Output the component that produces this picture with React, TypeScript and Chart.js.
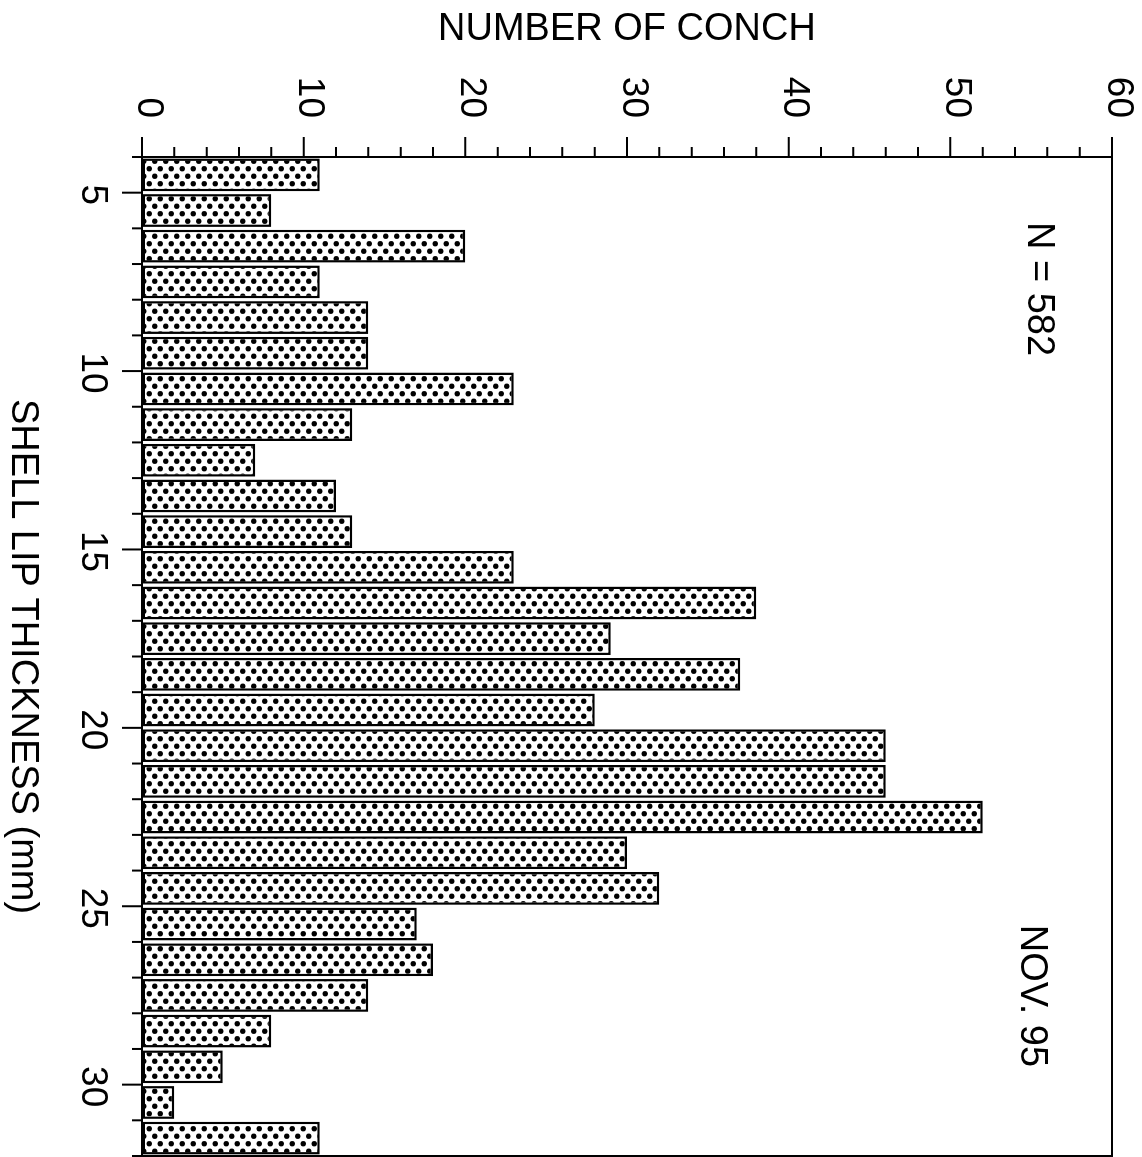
import React, { useEffect, useRef } from 'react';
import { Chart, registerables } from 'chart.js';

Chart.register(...registerables);

// Bin start of each 1-mm shell lip thickness class (mm)
const binStarts = [4, 5, 6, 7, 8, 9, 10, 11, 12, 13, 14, 15, 16, 17, 18, 19, 20, 21, 22, 23, 24, 25, 26, 27, 28, 29, 30, 31];
// Number of conch in each class
const conchCounts = [11, 8, 20, 11, 14, 14, 23, 13, 7, 12, 13, 23, 38, 29, 37, 28, 46, 46, 52, 30, 32, 17, 18, 14, 8, 5, 2, 11];
// Labelled ticks
const thicknessLabels = [5, 10, 15, 20, 25, 30];
const countLabels = [0, 10, 20, 30, 40, 50, 60];

const xTitle = 'SHELL LIP THICKNESS (mm)';
const yTitle = 'NUMBER OF CONCH';
const sampleNote = 'N = 582';
const dateNote = 'NOV. 95';

const FONT = '"Liberation Sans", Arial, Helvetica, sans-serif';
// Unrotated canvas size (chart is drawn as a vertical histogram, then turned 90deg clockwise)
const W0 = 1157;
const H0 = 1142;

function makePattern(): CanvasPattern | string {
  const tile = document.createElement('canvas');
  tile.width = 15;
  tile.height = 11;
  const t = tile.getContext('2d');
  if (!t) return '#bbb';
  t.fillStyle = '#fff';
  t.fillRect(0, 0, 15, 11);
  t.fillStyle = '#000';
  t.beginPath();
  t.arc(3.75, 2.75, 2.7, 0, Math.PI * 2);
  t.closePath();
  t.moveTo(11.25 + 2.7, 8.25);
  t.arc(11.25, 8.25, 2.7, 0, Math.PI * 2);
  t.closePath();
  t.fill();
  const main = document.createElement('canvas').getContext('2d');
  const p = main ? main.createPattern(tile, 'repeat') : null;
  return p || '#bbb';
}

const framePlugin = {
  id: 'frame',
  afterDatasetsDraw(chart: any) {
    const { ctx, chartArea: a, scales } = chart;
    const xs = scales.x;
    const ys = scales.y;
    ctx.save();
    ctx.strokeStyle = '#000';
    ctx.lineWidth = 2;
    ctx.strokeRect(a.left, a.top, a.right - a.left, a.bottom - a.top);
    ctx.beginPath();
    xs.ticks.forEach((t: any) => {
      const p = xs.getPixelForValue(t.value);
      const len = thicknessLabels.includes(t.value) ? 20 : 10;
      ctx.moveTo(p, a.bottom);
      ctx.lineTo(p, a.bottom + len);
    });
    ys.ticks.forEach((t: any) => {
      const p = ys.getPixelForValue(t.value);
      const len = countLabels.includes(t.value) ? 20 : 10;
      ctx.moveTo(a.left, p);
      ctx.lineTo(a.left - len, p);
    });
    ctx.stroke();
    ctx.fillStyle = '#000';
    ctx.font = `38px ${FONT}`;
    ctx.textAlign = 'left';
    ctx.textBaseline = 'alphabetic';
    ctx.fillText(sampleNote, xs.getPixelForValue(5.82), ys.getPixelForValue(54.8));
    ctx.fillText(dateNote, xs.getPixelForValue(25.52), ys.getPixelForValue(54.4));
    ctx.restore();
  },
};

export default function App() {
  const ref = useRef<HTMLCanvasElement | null>(null);

  useEffect(() => {
    if (!ref.current) return;
    const pattern = makePattern();
    const points = binStarts.map((b, i) => ({ x: b + 0.5, y: conchCounts[i] }));
    const chart = new Chart(ref.current, {
      type: 'bar',
      data: {
        datasets: [
          {
            data: points as any,
            backgroundColor: pattern as any,
            borderColor: '#000',
            borderWidth: 2.5,
            borderSkipped: false,
            barPercentage: 0.92,
            categoryPercentage: 1,
          },
        ],
      },
      options: {
        responsive: false,
        animation: false,
        devicePixelRatio: 1,
        layout: { padding: { top: 30, right: 1, left: 0, bottom: 0 } },
        plugins: { legend: { display: false }, tooltip: { enabled: false } },
        scales: {
          x: {
            type: 'linear',
            min: 4,
            max: 32,
            offset: false,
            grid: {
              display: true,
              drawOnChartArea: false,
              drawTicks: true,
              tickLength: 28,
              tickColor: 'rgba(0,0,0,0)',
            },
            border: { display: false },
            ticks: {
              stepSize: 1,
              maxTicksLimit: 100,
              autoSkip: false,
              maxRotation: 0,
              minRotation: 0,
              padding: 0,
              labelOffset: 2,
              color: '#000',
              font: { family: FONT, size: 37 },
              callback: (v: any) => (thicknessLabels.includes(Number(v)) ? String(v) : ''),
            },
            title: {
              display: true,
              text: xTitle,
              color: '#000',
              font: { family: FONT, size: 38 },
              padding: { top: 0, bottom: 0 },
            },
            afterFit: (s: any) => {
              s.height = 142;
            },
          },
          y: {
            min: 0,
            max: 60,
            grid: {
              display: true,
              drawOnChartArea: false,
              drawTicks: true,
              tickLength: 39,
              tickColor: 'rgba(0,0,0,0)',
            },
            border: { display: false },
            ticks: {
              stepSize: 2,
              maxTicksLimit: 100,
              autoSkip: false,
              padding: 0,
              labelOffset: -6,
              color: '#000',
              font: { family: FONT, size: 37 },
              callback: (v: any) => (countLabels.includes(Number(v)) ? String(v) : ''),
            },
            title: {
              display: true,
              text: yTitle,
              color: '#000',
              font: { family: FONT, size: 38 },
              padding: { top: 7, bottom: 0 },
            },
            afterFit: (s: any) => {
              s.width = 157;
            },
          },
        },
      } as any,
      plugins: [framePlugin],
    });
    return () => chart.destroy();
  }, []);

  return (
    <div
      style={{
        position: 'fixed',
        top: 0,
        left: 0,
        width: H0,
        height: W0,
        overflow: 'hidden',
        background: '#fff',
      }}
    >
      <canvas
        ref={ref}
        width={W0}
        height={H0}
        style={{
          position: 'absolute',
          top: 0,
          left: 0,
          width: W0,
          height: H0,
          transformOrigin: 'top left',
          transform: 'rotate(90deg) translateY(-100%)',
        }}
      />
    </div>
  );
}
